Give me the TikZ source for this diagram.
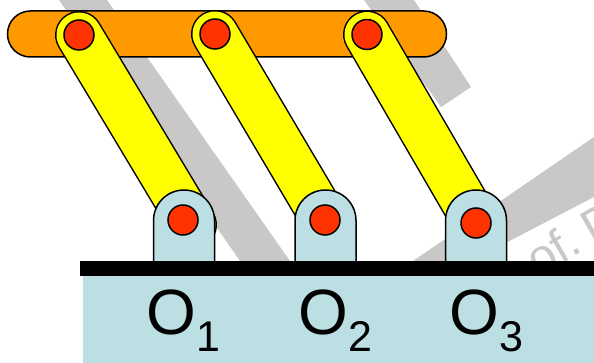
\documentclass[tikz,border=0pt]{standalone}
\usepackage{fontspec}
\setmainfont{Liberation Sans}
\definecolor{wm}{HTML}{C9C8C7}
\definecolor{base}{HTML}{BBDFE3}
\definecolor{barc}{HTML}{FF9900}
\definecolor{pinc}{HTML}{FF3300}
\definecolor{linkc}{HTML}{FFFF00}
\tikzset{
  outline/.style={draw=black,line width=1.5pt},
  pin/.style={outline,fill=pinc},
  clevis/.style={outline,fill=base},
  main/.style={inner sep=0pt,font=\fontsize{64}{64}\selectfont,anchor=base},
  sub/.style={inner sep=0pt,font=\fontsize{43}{43}\selectfont,anchor=base west},
  wmtext/.style={inner sep=0pt,text=wm,font=\fontsize{48}{48}\selectfont,rotate=30,anchor=base west}
}
\newcommand{\linkbar}[2]{%
  \draw[line cap=round,line width=48pt,black] (#1) -- (#2);
  \draw[line cap=round,line width=45pt,linkc] (#1) -- (#2);
}
\newcommand{\clevisat}[1]{%
  \path[clevis] (#1-30.5,261) -- (#1-30.5,220.5) arc[start angle=180,end angle=360,radius=30.5] -- (#1+30.5,261);
}
\begin{document}
\begin{tikzpicture}[x=1pt,y=-1pt]
\useasboundingbox (0,0) rectangle (594,363);
% watermark
\fill[wm] (59,0) -- (107,0) -- (290,261) -- (240,261) -- cycle;
\fill[wm] (364,0) -- (414,0) -- (471,87) -- (441,107) -- cycle;
\fill[wm] (413,261) -- (594,137) -- (594,197) -- (471,261) -- cycle;
\begin{scope}
\clip (0,0) rectangle (594,363);
\node[wmtext] (wmark) at (538,278) {of.\kern-7pt{} D};
\end{scope}
% ground
\fill[base] (83,276) rectangle (594,363);
\fill[black] (80,261) rectangle (594,276);
% coupler
\draw[outline,fill=barc,rounded corners=22.9pt] (7.5,11) rectangle (446.5,57);
% links
\coordinate (a1) at (79,35);
\coordinate (a2) at (215,34);
\coordinate (a3) at (367,34.5);
\coordinate (b1) at (193,225);
\coordinate (b2) at (325,220);
\coordinate (b3) at (476,222);
\linkbar{a1}{b1}
\linkbar{a2}{b2}
\linkbar{a3}{b3}
% clevises
\clevisat{184}
\clevisat{325.5}
\clevisat{476}
% pins
\coordinate (p1) at (183,220);
\coordinate (p3) at (476,223);
\foreach \p in {a1,a2,a3,p1,b2,p3}{\draw[pin] (\p) circle (15);}
% labels
\node[main] (o1) at (171,334) {O};
\node[sub] (s1) at (196,351) {1};
\node[main] (o2) at (323.5,334) {O};
\node[sub] (s2) at (348,351) {2};
\node[main] (o3) at (474.5,334) {O};
\node[sub] (s3) at (499,351) {3};
\end{tikzpicture}
\end{document}
